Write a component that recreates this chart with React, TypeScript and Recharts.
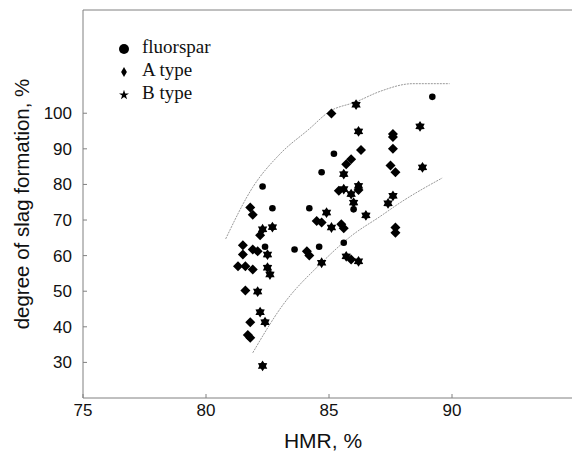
import { ComposedChart, Scatter, Line, XAxis, YAxis, Legend, ReferenceLine } from 'recharts'

// HMR (%) vs degree of slag formation (%)
const fluorspar = [
  { x: 82.3, y: 79.4 }, { x: 82.7, y: 73.3 }, { x: 83.6, y: 61.7 }, { x: 84.2, y: 73.3 },
  { x: 85.2, y: 88.6 }, { x: 84.7, y: 83.4 }, { x: 86.0, y: 73.0 }, { x: 89.2, y: 104.6 },
  { x: 82.4, y: 62.5 }, { x: 84.6, y: 62.5 }, { x: 85.6, y: 63.6 },
]

const typeA = [
  { x: 81.8, y: 73.5 }, { x: 81.9, y: 71.5 }, { x: 82.2, y: 65.7 }, { x: 81.5, y: 62.9 },
  { x: 81.5, y: 60.3 }, { x: 81.9, y: 61.7 }, { x: 82.1, y: 61.2 }, { x: 81.3, y: 57.0 },
  { x: 81.6, y: 57.0 }, { x: 81.9, y: 56.1 }, { x: 81.6, y: 50.2 }, { x: 81.8, y: 41.3 },
  { x: 81.7, y: 37.7 }, { x: 81.8, y: 36.9 }, { x: 84.1, y: 61.2 }, { x: 84.2, y: 60.0 },
  { x: 84.5, y: 69.7 }, { x: 84.7, y: 69.3 }, { x: 85.5, y: 68.8 }, { x: 85.6, y: 67.7 },
  { x: 85.9, y: 58.9 }, { x: 86.2, y: 78.4 }, { x: 85.4, y: 78.2 }, { x: 85.7, y: 85.7 },
  { x: 85.9, y: 87.1 }, { x: 86.3, y: 89.7 }, { x: 85.1, y: 99.9 }, { x: 87.6, y: 94.2 },
  { x: 87.6, y: 93.3 }, { x: 87.6, y: 90.0 }, { x: 87.5, y: 85.3 }, { x: 87.7, y: 83.4 },
  { x: 87.7, y: 67.9 }, { x: 87.7, y: 66.4 },
]

const typeB = [
  { x: 82.7, y: 68.0 }, { x: 82.3, y: 67.4 }, { x: 82.5, y: 60.3 }, { x: 82.5, y: 56.6 },
  { x: 82.6, y: 54.7 }, { x: 82.1, y: 49.9 }, { x: 82.2, y: 44.1 }, { x: 82.4, y: 41.3 },
  { x: 82.3, y: 29.0 }, { x: 84.7, y: 58.0 }, { x: 84.9, y: 72.1 }, { x: 85.1, y: 67.9 },
  { x: 85.7, y: 59.8 }, { x: 86.2, y: 58.4 }, { x: 86.5, y: 71.3 }, { x: 86.2, y: 79.6 },
  { x: 86.0, y: 74.9 }, { x: 85.9, y: 77.3 }, { x: 85.6, y: 78.7 }, { x: 85.6, y: 82.9 },
  { x: 86.2, y: 94.9 }, { x: 86.1, y: 102.4 }, { x: 88.7, y: 96.3 }, { x: 88.8, y: 84.8 },
  { x: 87.6, y: 76.8 }, { x: 87.4, y: 74.7 },
]

// envelope curves
const upperBound = [
  { x: 80.8, y: 64.7 }, { x: 81.9, y: 79.2 }, { x: 83.0, y: 88.5 }, { x: 84.2, y: 95.6 },
  { x: 85.0, y: 100.4 }, { x: 86.1, y: 103.2 }, { x: 87.1, y: 106.2 }, { x: 88.4, y: 108.3 },
  { x: 89.9, y: 108.3 },
]

const lowerBound = [
  { x: 81.9, y: 32.7 }, { x: 83.1, y: 45.9 }, { x: 84.7, y: 58.0 }, { x: 85.9, y: 65.5 },
  { x: 87.1, y: 71.1 }, { x: 87.9, y: 74.9 }, { x: 89.6, y: 81.8 },
]

const xTicks = [75, 80, 85, 90]
const yTicks = [30, 40, 50, 60, 70, 80, 90, 100]
const legendOrder = ['fluorspar', 'A type', 'B type']

const axisColor = '#808080'
const sans = 'Liberation Sans, Arial, sans-serif'

const Dot = (props: any) => <circle cx={props.cx} cy={props.cy} r={3.3} fill="#000" />

const Diamond = (props: any) => {
  const { cx, cy } = props
  const r = 5
  return <polygon points={`${cx},${cy - r} ${cx + r},${cy} ${cx},${cy + r} ${cx - r},${cy}`} fill="#000" />
}

const Star = (props: any) => {
  const { cx, cy } = props
  const pts: string[] = []
  for (let i = 0; i < 12; i++) {
    const r = i % 2 === 0 ? 5.4 : 3.3
    const a = (Math.PI / 6) * i - Math.PI / 2
    pts.push(`${cx + r * Math.cos(a)},${cy + r * Math.sin(a)}`)
  }
  return <polygon points={pts.join(' ')} fill="#000" />
}

export default function App() {
  return (
    <div style={{ width: 580, height: 454, background: '#fff' }}>
      <style>{'body{margin:0;overflow:hidden;background:#fff}'}</style>
      <ComposedChart width={580} height={454} margin={{ top: 10, right: 5, bottom: 0, left: 23 }}>
        <XAxis
          dataKey="x"
          type="number"
          domain={[75, 95]}
          ticks={xTicks}
          allowDataOverflow
          height={56}
          stroke={axisColor}
          tickSize={-4}
          tickMargin={10}
          tick={{ fill: '#111', fontSize: 17, fontFamily: sans }}
          label={{ value: 'HMR, %', position: 'insideBottom', offset: 6, dx: -6, fill: '#111', fontSize: 21, fontFamily: sans }}
        />
        <YAxis
          dataKey="y"
          type="number"
          domain={[20, 129]}
          ticks={yTicks}
          allowDataOverflow
          width={60}
          stroke={axisColor}
          tickSize={-4}
          tickMargin={15}
          tick={{ fill: '#111', fontSize: 17, fontFamily: sans }}
          label={{
            value: 'degree of slag formation, %',
            angle: -90,
            position: 'insideLeft',
            offset: -1,
            fill: '#111',
            fontSize: 20.5,
            fontFamily: sans,
            style: { textAnchor: 'middle' },
          }}
        />
        <ReferenceLine y={129} stroke={axisColor} ifOverflow="extendDomain" />
        <Line data={upperBound} dataKey="y" type="monotone" stroke="#999" strokeWidth={1} strokeDasharray="2 1" dot={false} legendType="none" isAnimationActive={false} />
        <Line data={lowerBound} dataKey="y" type="monotone" stroke="#999" strokeWidth={1} strokeDasharray="2 1" dot={false} legendType="none" isAnimationActive={false} />
        <Scatter name="fluorspar" data={fluorspar} shape={Dot} legendType="circle" fill="#000" isAnimationActive={false} />
        <Scatter name="A type" data={typeA} shape={Diamond} legendType="diamond" fill="#000" isAnimationActive={false} />
        <Scatter name="B type" data={typeB} shape={Star} legendType="star" fill="#000" isAnimationActive={false} />
        <Legend
          layout="vertical"
          align="center"
          verticalAlign="middle"
          iconSize={10}
          itemSorter={(item: any) => legendOrder.indexOf(item.value)}
          formatter={(value) => <span style={{ color: '#111', marginLeft: 9 }}>{value}</span>}
          wrapperStyle={{ top: 35, left: 119, width: 'auto', fontFamily: 'Liberation Serif, Times New Roman, serif', fontSize: 19, lineHeight: '23px' }}
        />
      </ComposedChart>
    </div>
  )
}
